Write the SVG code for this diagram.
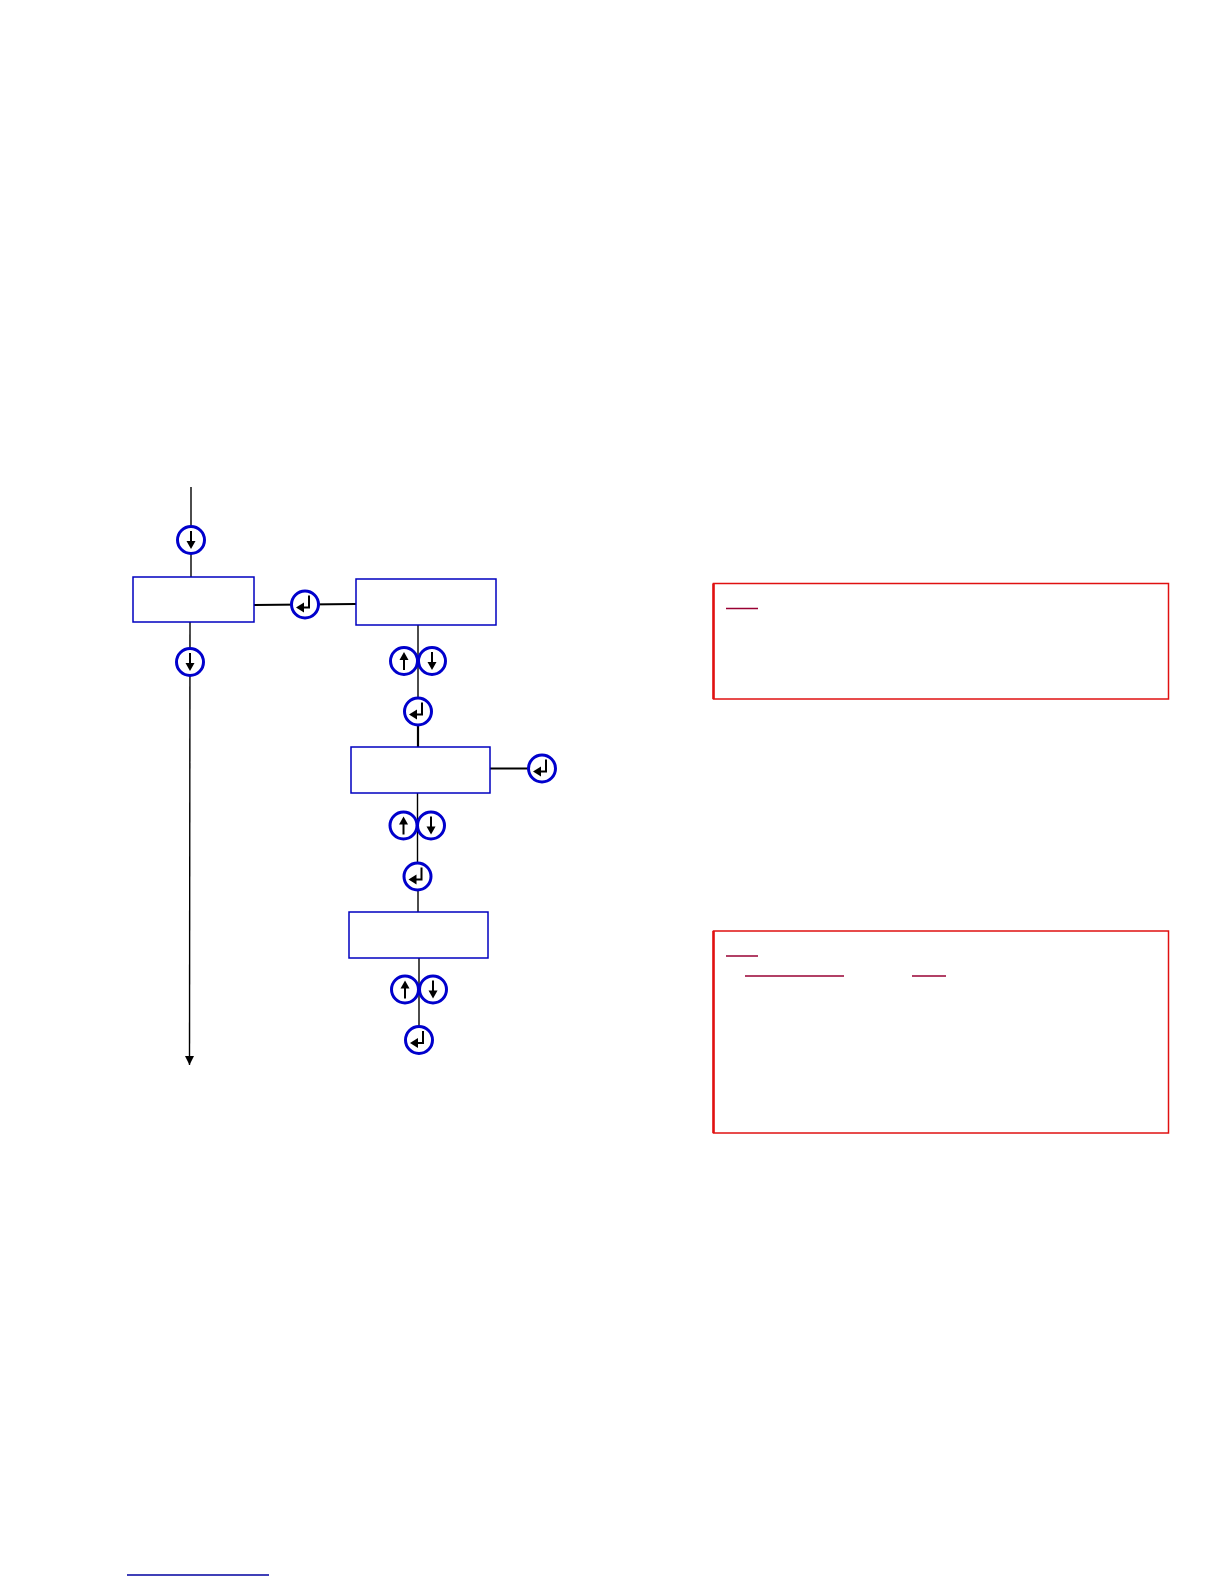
<svg xmlns="http://www.w3.org/2000/svg" width="1224" height="1584" viewBox="0 0 1224 1584">
<defs>
<style>
.box{fill:#fff;stroke:#0000c0;stroke-width:1.5}
.note{fill:#fff;stroke:#e01010;stroke-width:1.5}
.btn{fill:#fff;stroke:#0000cc;stroke-width:3}
.ln{stroke:#000;stroke-width:1.4;fill:none}
.lnb{stroke:#000;stroke-width:2.2;fill:none}
.ul{stroke:#990033;stroke-width:1.5}
.g{stroke:#000;stroke-width:2;fill:none}
</style>
<marker id="ah" markerWidth="12" markerHeight="12" refX="9" refY="4.5" orient="auto" markerUnits="userSpaceOnUse">
<path d="M0,0 L9,4.5 L0,9 Z" fill="#000"/>
</marker>
<g id="down">
<circle class="btn" r="13.5"/>
<line class="g" x1="0" y1="-9" x2="0" y2="2"/>
<path d="M-4.5,1 L4.5,1 L0,9 Z" fill="#000"/>
</g>
<g id="up">
<circle class="btn" r="13.5"/>
<line class="g" x1="0" y1="9" x2="0" y2="-2"/>
<path d="M-4.5,-1 L4.5,-1 L0,-9 Z" fill="#000"/>
</g>
<g id="enter">
<circle class="btn" r="13.5"/>
<path class="g" d="M4,-9 L4,3 L-2,3"/>
<path d="M-1,-2 L-1,8 L-9,3 Z" fill="#000"/>
</g>
</defs>
<rect width="1224" height="1584" fill="#fff"/>
<g id="connectors">
<line class="ln" x1="191" y1="487" x2="191" y2="577"/>
<line class="ln" x1="190" y1="622" x2="189.5" y2="1065" marker-end="url(#ah)"/>
<line class="lnb" x1="254" y1="605" x2="305" y2="604.5"/>
<line class="lnb" x1="305" y1="604.5" x2="356" y2="604"/>
<line class="ln" x1="418" y1="625" x2="418" y2="711"/>
<line class="lnb" x1="418" y1="711" x2="418" y2="747"/>
<line class="lnb" x1="490" y1="768.5" x2="542" y2="768.5"/>
<line class="ln" x1="417.5" y1="793" x2="417.5" y2="877"/>
<line class="ln" x1="418" y1="877" x2="418" y2="912"/>
<line class="ln" x1="419" y1="958" x2="419" y2="1040"/>
<line stroke="#0000a0" stroke-width="1.5" x1="127" y1="1575" x2="269" y2="1575"/>
</g>
<g id="n1"><rect class="box" x="133" y="577" width="121" height="45"/></g>
<g id="n2"><rect class="box" x="356" y="579" width="140" height="46"/></g>
<g id="n3"><rect class="box" x="351" y="747" width="139" height="46"/></g>
<g id="n4"><rect class="box" x="349" y="912" width="139" height="46"/></g>
<g id="b1"><use href="#down" x="191" y="540"/></g>
<g id="b2"><use href="#down" x="190" y="662"/></g>
<g id="b3"><use href="#enter" x="305" y="604.5"/></g>
<g id="b4"><use href="#up" x="404" y="661"/><use href="#down" x="432" y="661"/></g>
<g id="b5"><use href="#enter" x="418" y="711.5"/></g>
<g id="b6"><use href="#enter" x="542" y="768.5"/></g>
<g id="b7"><use href="#up" x="403.5" y="825.5"/><use href="#down" x="431" y="825.5"/></g>
<g id="b8"><use href="#enter" x="417.5" y="876.5"/></g>
<g id="b9"><use href="#up" x="405" y="989.5"/><use href="#down" x="433" y="989.5"/></g>
<g id="b10"><use href="#enter" x="419" y="1040"/></g>
<g id="noteA">
<rect class="note" x="713.5" y="583.5" width="455" height="115.5"/>
<line stroke="#e01010" stroke-width="2.5" x1="713.5" y1="583.5" x2="713.5" y2="699"/>
<line class="ul" x1="726" y1="608.5" x2="758" y2="608.5"/>
</g>
<g id="noteB">
<rect class="note" x="713.5" y="931" width="455" height="202"/>
<line stroke="#e01010" stroke-width="2.5" x1="713.5" y1="931" x2="713.5" y2="1133"/>
<line class="ul" x1="726" y1="956" x2="758" y2="956"/>
<line class="ul" x1="745" y1="976" x2="844" y2="976"/>
<line class="ul" x1="912" y1="976" x2="946" y2="976"/>
</g>
</svg>
